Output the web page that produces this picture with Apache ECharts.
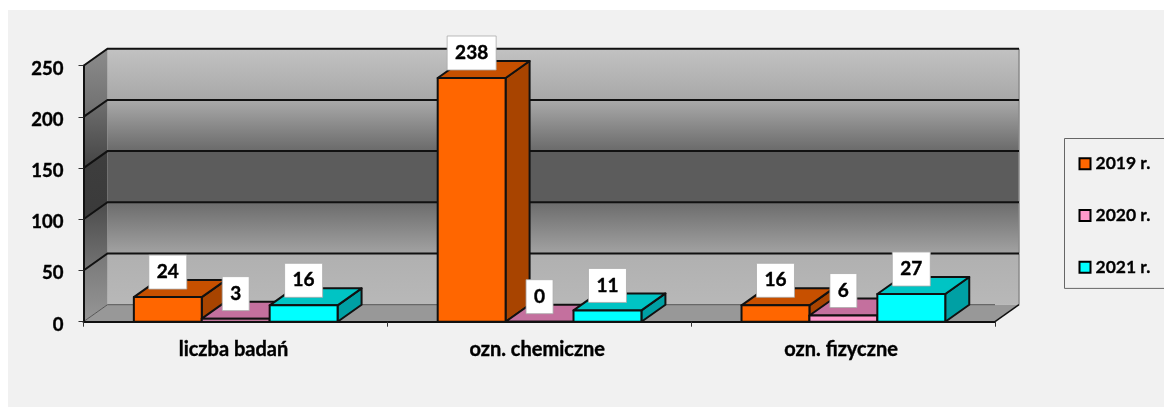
<!DOCTYPE html>
<html>
  <head>
    <title></title>
    <meta charset="UTF-8" />
    <script src="https://cdn.jsdelivr.net/npm/echarts@6/dist/echarts.min.js"></script>
    <style>
      html, body { margin: 0; padding: 0; background: #fff; }
    </style>
  </head>
  <body>
    <div id="main"></div>
    <script>
      const width = 1164;
      const height = 407;
      const main = document.getElementById('main');
      main.style.width = `${width}px`;
      main.style.height = `${height}px`;

      const categories = ['liczba badań', 'ozn. chemiczne', 'ozn. fizyczne'];
      const seriesNames = ['2019 r.', '2020 r.', '2021 r.'];
      const values2019 = [24, 238, 16];
      const values2020 = [3, 0, 6];
      const values2021 = [16, 11, 27];
      const yTicks = [0, 50, 100, 150, 200, 250];

      const fontFamily = 'Lato, "Open Sans", sans-serif';
      const heavy = {textBorderColor: '#000', textBorderWidth: 0.4};
      const depthX = 24;
      const depthY = 17;
      const barShare = 0.2235; // bar width as a part of the category band

      const barColors = [
        {front: '#ff6600', top: '#c75000', side: '#a84400'},
        {front: '#ff99cc', top: '#c4709e', side: '#a05a80'},
        {front: '#00ffff', top: '#00c4c4', side: '#00a0a4'},
      ];
      // wall shading for each band, from the bottom band up
      const backShades = [
        ['#b0b0b0', '#b8b8b8'],
        ['#6c6c6c', '#a2a2a2'],
        ['#5c5c5c', '#5c5c5c'],
        ['#aaaaaa', '#6a6a6a'],
        ['#c2c2c2', '#a8a8a8'],
      ];
      const sideShades = [
        ['#787878', '#969696'],
        ['#4c4c4c', '#747474'],
        ['#3e3e3e', '#3a3a3a'],
        ['#707070', '#444444'],
        ['#8c8c8c', '#6e6e6e'],
      ];

      const vGrad = (a, b) => new echarts.graphic.LinearGradient(0, 0, 0, 1, [
        {offset: 0, color: a},
        {offset: 1, color: b},
      ]);

      const renderWall = (params, api) => {
        const grid = params.coordSys;
        const left = grid.x;
        const right = grid.x + grid.width;
        const yLow = api.coord([0, api.value(1)])[1];
        const yHigh = api.coord([0, api.value(2)])[1];
        const i = params.dataIndex;
        const children = [
          {
            type: 'polygon',
            shape: {points: [[left + depthX, yHigh - depthY], [right + depthX, yHigh - depthY], [right + depthX, yLow - depthY], [left + depthX, yLow - depthY]]},
            style: {fill: vGrad(backShades[i][0], backShades[i][1])},
          },
          {
            type: 'polygon',
            shape: {points: [[left, yHigh], [left + depthX, yHigh - depthY], [left + depthX, yLow - depthY], [left, yLow]]},
            style: {fill: vGrad(sideShades[i][0], sideShades[i][1])},
          },
          {
            type: 'line',
            z2: 3,
            shape: {x1: right + depthX, y1: yHigh - depthY, x2: right + depthX, y2: yLow - depthY},
            style: {stroke: '#8a8a8a', lineWidth: 1.5},
          },
          {
            type: 'polyline',
            z2: 5,
            shape: {points: [[left, yHigh], [left + depthX, yHigh - depthY], [right + depthX, yHigh - depthY]]},
            style: {fill: 'none', stroke: '#111', lineWidth: 2},
          },
        ];
        if (i === 0) {
          children.push({
            type: 'polygon',
            z2: 2,
            shape: {points: [[left, yLow], [left + depthX, yLow - depthY], [right + depthX, yLow - depthY], [right, yLow]]},
            style: {fill: '#989898'},
          });
          children.push({
            type: 'polyline',
            z2: 3,
            shape: {points: [[left, yLow], [left + depthX, yLow - depthY], [right, yLow - depthY]]},
            style: {fill: 'none', stroke: '#555', lineWidth: 1},
          });
          children.push({
            type: 'line',
            z2: 5,
            shape: {x1: right, y1: yLow, x2: right + depthX, y2: yLow - depthY},
            style: {stroke: '#111', lineWidth: 1.5},
          });
        }
        return {type: 'group', children};
      };

      const renderBar = seriesIndex => (params, api) => {
        const center = api.coord([api.value(0), 0]);
        const value = api.value(1);
        const band = api.size([1, 0])[0];
        const barWidth = band * barShare;
        const x0 = center[0] + (seriesIndex - 1.5) * barWidth + 0.3;
        const x1 = x0 + barWidth;
        const y0 = center[1];
        const y1 = api.coord([api.value(0), value])[1];
        const c = barColors[seriesIndex];
        const line = {stroke: '#111', lineWidth: 2, lineJoin: 'round'};
        const text = String(value);
        const boxW = 16 + 11 * text.length;
        const boxH = 34;
        const boxY = y1 - 8 - boxH;
        const mid = (x0 + x1) / 2;
        return {
          type: 'group',
          children: [
            {
              type: 'polygon',
              shape: {points: [[x1, y1], [x1 + depthX, y1 - depthY], [x1 + depthX, y0 - depthY], [x1, y0]]},
              style: {fill: c.side, ...line},
            },
            {
              type: 'polygon',
              shape: {points: [[x0, y1], [x0 + depthX, y1 - depthY], [x1 + depthX, y1 - depthY], [x1, y1]]},
              style: {fill: c.top, ...line},
            },
            {
              type: 'rect',
              shape: {x: x0, y: y1, width: barWidth, height: y0 - y1},
              style: {fill: c.front, ...line},
            },
            {
              type: 'rect',
              shape: {x: mid - boxW / 2, y: boxY, width: boxW, height: boxH},
              style: {fill: '#fff', stroke: '#aaa', lineWidth: 0.8},
            },
            {
              type: 'text',
              x: mid,
              y: boxY + boxH / 2,
              style: {
                text,
                fill: '#000',
                align: 'center',
                verticalAlign: 'middle',
                fontFamily,
                fontWeight: 'bold',
                fontSize: 19,
                stroke: '#000',
                lineWidth: 0.4,
              },
            },
          ],
        };
      };

      const bands = yTicks.slice(0, -1).map((t, i) => [0, t, yTicks[i + 1]]);
      const toPoints = values => values.map((v, i) => [i, v]);

      const myChart = echarts.init(main);
      const option = {
        animation: false,
        backgroundColor: '#fff',
        textStyle: {fontFamily},
        graphic: [
          {
            type: 'rect',
            z: -10,
            silent: true,
            shape: {x: 8, y: 10, width: 1156, height: 397},
            style: {fill: '#f1f1f1'},
          },
        ],
        grid: {left: 83.5, top: 65.7, width: 911.5, height: 256},
        legend: {
          left: 1064.5,
          top: 138.5,
          orient: 'vertical',
          data: seriesNames,
          icon: 'rect',
          itemWidth: 11,
          itemHeight: 11,
          itemGap: 33.5,
          padding: [16, 40, 12, 14],
          borderColor: '#666',
          borderWidth: 1,
          selectedMode: false,
          itemStyle: {borderColor: '#000', borderWidth: 2},
          textStyle: {fontFamily, fontWeight: 'bold', fontSize: 17.5, color: '#000', ...heavy, textBorderWidth: 0.3},
        },
        xAxis: {
          type: 'category',
          data: categories,
          z: 10,
          axisLine: {lineStyle: {color: '#111', width: 2}},
          axisTick: {show: true, alignWithLabel: false, length: 5, lineStyle: {color: '#333', width: 1}},
          axisLabel: {margin: 18, padding: [0, 4, 0, 0], fontFamily, fontWeight: 'bold', fontSize: 20, color: '#000', ...heavy},
          splitLine: {show: false},
        },
        yAxis: {
          type: 'value',
          min: 0,
          max: 250,
          interval: 50,
          z: 10,
          axisLine: {show: true, lineStyle: {color: '#111', width: 2}},
          axisTick: {show: true, length: 5, lineStyle: {color: '#333', width: 1}},
          axisLabel: {
            margin: 20,
            formatter: '{v|{value}}',
            rich: {
              v: {padding: [6, 0, 0, 0], fontFamily, fontWeight: 'bold', fontSize: 18.5, color: '#000', ...heavy},
            },
          },
          splitLine: {show: false},
        },
        series: [
          {
            type: 'custom',
            name: 'walls',
            silent: true,
            clip: false,
            z: 1,
            renderItem: renderWall,
            encode: {x: 0, y: 1},
            data: bands,
          },
          ...[values2019, values2020, values2021].map((values, k) => ({
            type: 'custom',
            name: seriesNames[k],
            clip: false,
            z: 2,
            itemStyle: {color: barColors[k].front},
            renderItem: renderBar(k),
            encode: {x: 0, y: 1},
            data: toPoints(values),
          })),
        ],
      };
      myChart.setOption(option);
    </script>
  </body>
</html>
